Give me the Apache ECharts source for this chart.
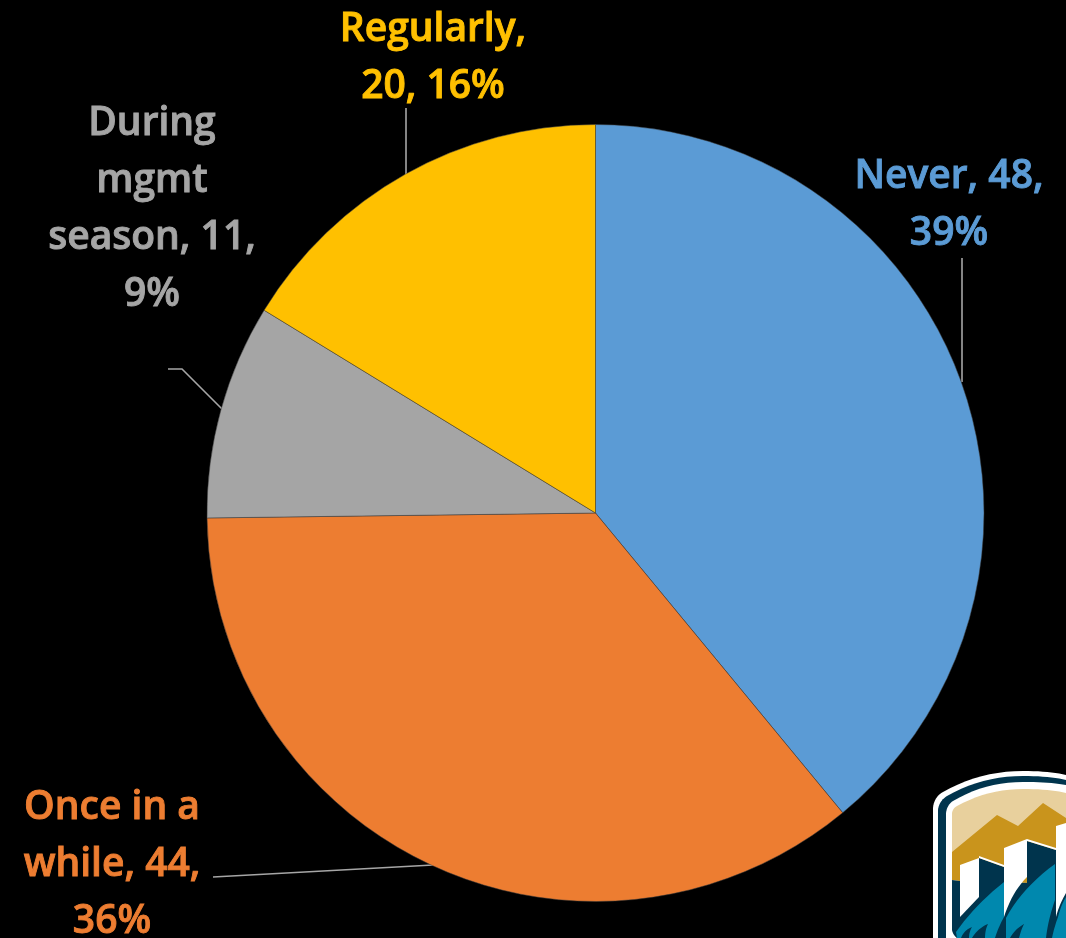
<!DOCTYPE html>
<html><head><meta charset="utf-8">
<style>html,body{margin:0;padding:0;background:#000;overflow:hidden}#c{width:1066px;height:938px}</style>
<script src="https://cdn.jsdelivr.net/npm/echarts@6/dist/echarts.min.js"></script>
</head><body><div id="c"></div>
<script>
const categories = ['Never','Once in a while','During mgmt season','Regularly'];
const values = [48,44,11,20];
const percents = [39,36,9,16];
const labelTexts = ['Never, 48,\n39%','Once in a\nwhile, 44,\n36%','During\nmgmt\nseason, 11,\n9%','Regularly,\n20, 16%'];

const colors = ['#5B9BD5','#ED7D31','#A5A5A5','#FFC000'];
const labelCenters = [[949,205],[112,865],[152,209],[433,58]];
const leaders = [
 [[962,382],[962,258]],
 [[433,865],[213,877]],
 [[222,409],[182,369],[168,369]],
 [[406,176],[406,108]]
];
const NAVY='#00344D', TEAL='#0088AE', WHITE='#FFFFFF';
const logo = [
 ['M933,938 L933,808 Q934,797 943,792 Q980,771 1023,771 Q1050,771 1066,775 L1066,938 Z',WHITE],
 ['M938,938 L938,810 Q939,801 947,796 Q982,776 1023,776 Q1050,776 1066,780 L1066,938 Z',NAVY],
 ['M946,938 L946,813 Q947,805 953,801 Q985,782 1023,782 Q1050,782 1066,785 L1066,938 Z',WHITE],
 ['M952,880 L952,813 Q953,808 957,806 Q988,789 1023,789 Q1050,789 1066,793 L1066,860 Z','#E8D09D'],
 ['M952,852 L997,815 L1018,826 L1043,803 L1066,818 L1066,884 L960,881 L952,880 Z','#C9941C'],
 ['M952,880 L960,881 L1066,884 L1066,938 L957,938 Q953,935 952,930 Z',NAVY],
 ['M960,865 L979,858 L979,897 L960,917 Z',WHITE],
 ['M979,858 L1004,867 L1004,895 L979,900 Z',NAVY],
 ['M979,856 L1004,865 L1004,867 L979,858 Z',WHITE],
 ['M1004,848 L1027,839 L1027,877 Q1012,892 1004,917 Z',WHITE],
 ['M1027,841 L1056,850 L1056,895 L1027,895 Z',NAVY],
 ['M1027,839 L1056,848 L1056,850 L1027,841 Z',WHITE],
 ['M1056,826 L1066,823 L1066,893 Q1059,905 1056,917 Z',WHITE],
 ['M956,932 Q975,905 1004,882 L1004,917 Q998,928 995,938 L985,938 Q985,930 988,924 Q978,928 972,938 L969,938 Q969,932 972,927 Q964,930 961,938 L957,938 Z',TEAL],
 ['M1006,918 Q1022,888 1055,864 L1055,900 Q1048,920 1046,938 L1019,938 Q1021,930 1024,924 Q1014,930 1010,938 L1006,938 Z',TEAL],
 ['M1058,917 Q1061,905 1066,897 L1066,938 L1052,938 Q1054,928 1058,917 Z',TEAL]
];
function outline(d){
  const pts=[]; let cur=null;
  d.replace(/([MLQ])([^MLQZ]+)/g,(m,cmd,args)=>{
    const n=args.trim().split(/[\s,]+/).map(Number);
    if(cmd==='Q'){
      for(let k=1;k<=10;k++){const t=k/10,u=1-t;
        pts.push([u*u*cur[0]+2*u*t*n[0]+t*t*n[2],u*u*cur[1]+2*u*t*n[1]+t*t*n[3]]);}
      cur=[n[2],n[3]];
    } else {cur=[n[0],n[1]];pts.push(cur);}
    return m;
  });
  return pts;
}

const chart = echarts.init(document.getElementById('c'));
chart.setOption({
 backgroundColor:'#000',
 animation:false,
 series:[{
  type:'pie',
  center:[595.5,513],
  radius:[0,388.5],
  startAngle:90,
  clockwise:true,
  silent:true,
  data:categories.map((n,i)=>({
    name:n,value:values[i],
    itemStyle:{color:colors[i],borderColor:'#3a3a3a',borderWidth:0.5},
    label:{color:colors[i],formatter:labelTexts[i],textBorderColor:colors[i],textBorderWidth:0.9}
  })),
  label:{show:true,position:'outside',fontFamily:'"Open Sans"',fontWeight:600,fontSize:39,lineHeight:57,align:'center',verticalAlign:'middle',overflow:'none'},
  labelLine:{show:false},
  labelLayout:(p)=>({x:labelCenters[p.dataIndex][0],y:labelCenters[p.dataIndex][1],align:'center',verticalAlign:'middle',hideOverlap:false})
 }],
 graphic:[
  ...leaders.map(p=>({type:'polyline',silent:true,shape:{points:p},style:{stroke:'#A6A6A6',lineWidth:1.6,fill:null}})),
  ...logo.map(([d,c])=>({type:'polygon',silent:true,shape:{points:outline(d)},style:{fill:c}}))
 ]
});
</script></body></html>
